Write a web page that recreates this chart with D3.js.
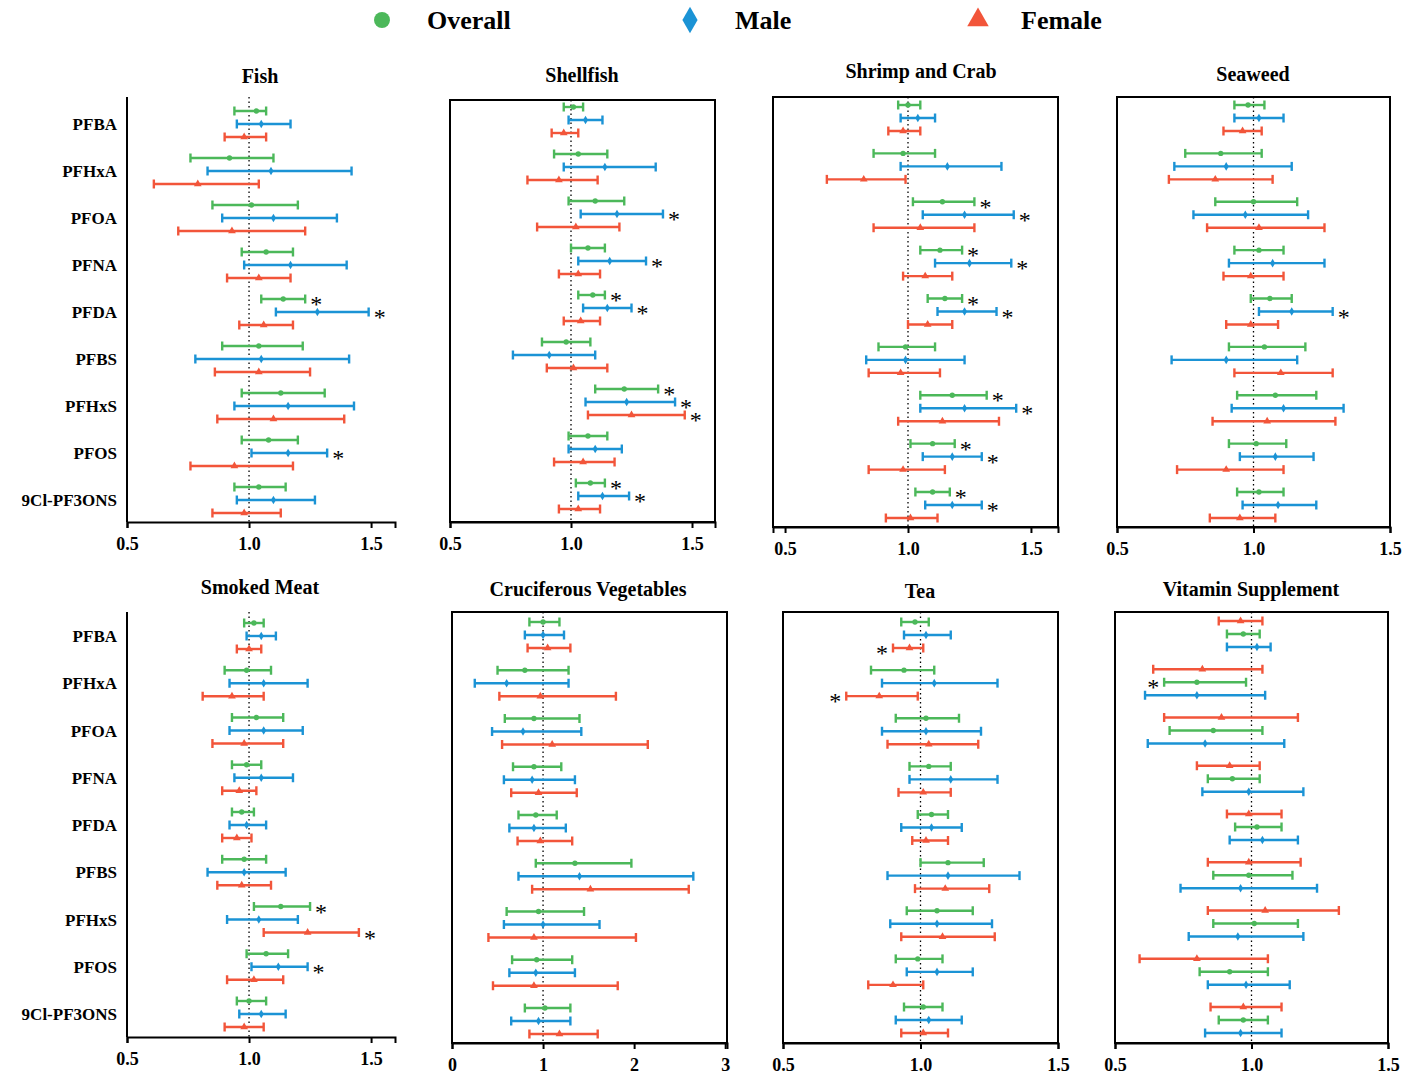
<!DOCTYPE html>
<html><head><meta charset="utf-8">
<script src="https://cdn.jsdelivr.net/npm/d3@7"></script>
<style>body{margin:0;background:#fff} svg text{font-family:"Liberation Serif","Times New Roman","DejaVu Serif",serif !important;font-weight:bold}</style>
</head><body>
<div class="canva"></div>
<script>
const compounds = ["PFBA","PFHxA","PFOA","PFNA","PFDA","PFBS","PFHxS","PFOS","9Cl-PF3ONS"]
// each entry: [estimate, lower CI, upper CI, star (1 right, -1 left, 0 none)]
const fishO = [[1.03,.94,1.07,0],[.92,.76,1.10,0],[1.01,.85,1.20,0],[1.07,.97,1.18,0],[1.14,1.05,1.23,1],[1.04,.89,1.22,0],[1.13,.97,1.31,0],[1.08,.97,1.20,0],[1.04,.94,1.15,0]]
const fishM = [[1.05,.95,1.17,0],[1.09,.83,1.42,0],[1.10,.89,1.36,0],[1.17,.98,1.40,0],[1.28,1.11,1.49,1],[1.05,.78,1.41,0],[1.16,.94,1.43,0],[1.16,1.01,1.32,1],[1.10,.95,1.27,0]]
const fishF = [[.98,.90,1.07,0],[.79,.61,1.04,0],[.93,.71,1.23,0],[1.04,.91,1.17,0],[1.06,.96,1.18,0],[1.04,.86,1.25,0],[1.10,.87,1.39,0],[.94,.76,1.18,0],[.98,.85,1.13,0]]
const shellO = [[1.01,.97,1.05,0],[1.03,.93,1.15,0],[1.10,.99,1.22,0],[1.07,1.00,1.14,0],[1.09,1.03,1.14,1],[.98,.88,1.08,0],[1.22,1.10,1.36,1],[1.07,.99,1.15,0],[1.08,1.02,1.14,1]]
const shellM = [[1.06,.99,1.13,0],[1.14,.97,1.35,0],[1.19,1.04,1.38,1],[1.16,1.03,1.31,1],[1.15,1.05,1.25,1],[.91,.76,1.10,0],[1.23,1.06,1.43,1],[1.10,.99,1.21,0],[1.13,1.03,1.24,1]]
const shellF = [[.97,.92,1.03,0],[.95,.82,1.11,0],[1.02,.86,1.20,0],[1.03,.95,1.12,0],[1.04,.97,1.12,0],[1.01,.90,1.15,0],[1.25,1.07,1.47,1],[1.05,.93,1.18,0],[1.03,.95,1.12,0]]
const shrimpO = [[1.00,.96,1.05,0],[.98,.86,1.11,0],[1.14,1.02,1.27,1],[1.13,1.05,1.22,1],[1.15,1.08,1.22,1],[.99,.88,1.11,0],[1.18,1.05,1.32,1],[1.10,1.01,1.19,1],[1.10,1.03,1.17,1]]
const shrimpM = [[1.04,.97,1.11,0],[1.16,.97,1.38,0],[1.23,1.06,1.43,1],[1.25,1.11,1.42,1],[1.23,1.12,1.36,1],[.99,.83,1.23,0],[1.23,1.05,1.44,1],[1.18,1.06,1.30,1],[1.18,1.07,1.30,1]]
const shrimpF = [[.98,.92,1.05,0],[.82,.67,.99,0],[1.05,.86,1.27,0],[1.07,.98,1.18,0],[1.08,1.00,1.18,0],[.97,.84,1.13,0],[1.14,.96,1.37,0],[.98,.84,1.15,0],[1.01,.91,1.12,0]]
const seaO = [[.98,.93,1.04,0],[.88,.75,1.03,0],[1.00,.86,1.16,0],[1.02,.93,1.11,0],[1.06,.99,1.14,0],[1.04,.91,1.19,0],[1.08,.94,1.23,0],[1.01,.91,1.12,0],[1.02,.94,1.11,0]]
const seaM = [[1.02,.93,1.11,0],[.90,.71,1.14,0],[.97,.78,1.20,0],[1.07,.91,1.26,0],[1.14,1.02,1.29,1],[.90,.70,1.16,0],[1.11,.92,1.33,0],[1.08,.95,1.22,0],[1.09,.96,1.23,0]]
const seaF = [[.96,.89,1.03,0],[.86,.69,1.07,0],[1.02,.83,1.26,0],[.99,.89,1.11,0],[.99,.90,1.09,0],[1.10,.93,1.29,0],[1.05,.85,1.30,0],[.90,.72,1.11,0],[.95,.84,1.08,0]]
const smokO = [[1.02,.98,1.06,0],[.99,.90,1.09,0],[1.03,.93,1.14,0],[.99,.93,1.05,0],[.97,.93,1.02,0],[.98,.89,1.07,0],[1.13,1.02,1.25,1],[1.07,.99,1.16,0],[1.00,.95,1.07,0]]
const smokM = [[1.05,.99,1.11,0],[1.06,.92,1.24,0],[1.06,.92,1.22,0],[1.05,.94,1.18,0],[.99,.92,1.07,0],[.98,.83,1.15,0],[1.04,.91,1.20,0],[1.12,1.01,1.24,1],[1.05,.96,1.15,0]]
const smokF = [[1.00,.95,1.05,0],[.93,.81,1.06,0],[.98,.85,1.14,0],[.96,.89,1.03,0],[.95,.89,1.01,0],[.97,.87,1.09,0],[1.24,1.06,1.45,1],[1.02,.91,1.14,0],[.98,.90,1.06,0]]
const crucO = [[1.00,.85,1.18,0],[.80,.50,1.28,0],[.90,.58,1.40,0],[.90,.67,1.20,0],[.92,.73,1.15,0],[1.35,.92,1.97,0],[.95,.60,1.45,0],[.93,.66,1.32,0],[1.02,.80,1.30,0]]
const crucM = [[1.00,.80,1.23,0],[.60,.25,1.28,0],[.78,.44,1.42,0],[.88,.57,1.35,0],[.90,.63,1.25,0],[1.40,.73,2.65,0],[1.00,.57,1.62,0],[.92,.63,1.35,0],[.95,.65,1.30,0]]
const crucF = [[1.05,.83,1.30,0],[.97,.52,1.80,0],[1.10,.55,2.15,0],[.95,.65,1.37,0],[.97,.72,1.32,0],[1.52,.88,2.60,0],[.90,.40,2.02,0],[.90,.45,1.82,0],[1.18,.85,1.60,0]]
const teaO = [[.98,.93,1.03,0],[.94,.82,1.05,0],[1.02,.91,1.14,0],[1.03,.96,1.11,0],[1.04,.99,1.10,0],[1.10,1.00,1.23,0],[1.06,.95,1.19,0],[.99,.91,1.08,0],[1.01,.94,1.08,0]]
const teaM = [[1.02,.94,1.11,0],[1.05,.86,1.28,0],[1.02,.86,1.22,0],[1.11,.96,1.28,0],[1.04,.93,1.15,0],[1.10,.88,1.36,0],[1.06,.89,1.26,0],[1.06,.95,1.19,0],[1.03,.91,1.15,0]]
const teaF = [[.96,.90,1.01,-1],[.85,.73,.99,-1],[1.03,.88,1.21,0],[1.01,.92,1.11,0],[1.02,.97,1.10,0],[1.09,.98,1.25,0],[1.08,.93,1.27,0],[.90,.81,1.01,0],[1.01,.93,1.10,0]]
const vitO = [[.97,.91,1.03,0],[.80,.68,.98,-1],[.86,.70,1.04,0],[.93,.84,1.03,0],[1.02,.94,1.11,0],[.99,.86,1.15,0],[1.01,.86,1.17,0],[.92,.81,1.06,0],[.97,.88,1.06,0]]
const vitM = [[1.02,.91,1.07,0],[.80,.61,1.05,0],[.83,.62,1.12,0],[.99,.82,1.19,0],[1.04,.92,1.17,0],[.96,.74,1.24,0],[.95,.77,1.19,0],[.98,.84,1.14,0],[.96,.83,1.11,0]]
const vitF = [[.96,.88,1.04,0],[.82,.64,1.04,0],[.89,.68,1.17,0],[.92,.80,1.03,0],[.99,.91,1.11,0],[.99,.84,1.18,0],[1.05,.84,1.32,0],[.80,.59,1.06,0],[.97,.85,1.11,0]]

const colors = {O:"#4cb85a", M:"#1b93d5", F:"#f2553a"}

const panels = [
  {title:"Fish", tx:260, ty:83, l:127, r:395, t:97, b:522, dom:[0.5,1.598], ticks:[0.5,1,1.5], box:false, c:[124,500], labels:true, O:fishO, M:fishM, F:fishF, order:["O","M","F"]},
  {title:"Shellfish", tx:582, ty:82, l:450, r:715, t:100, b:522, dom:[0.5,1.595], ticks:[0.5,1,1.5], box:true, c:[120,496], O:shellO, M:shellM, F:shellF, order:["O","M","F"]},
  {title:"Shrimp and Crab", tx:921, ty:78, l:773, r:1058, t:97, b:527, dom:[0.451,1.61], ticks:[0.5,1,1.5], box:true, c:[118,505], O:shrimpO, M:shrimpM, F:shrimpF, order:["O","M","F"]},
  {title:"Seaweed", tx:1253, ty:81, l:1117, r:1390, t:97, b:527, dom:[0.5,1.5], ticks:[0.5,1,1.5], box:true, c:[118,505], O:seaO, M:seaM, F:seaF, order:["O","M","F"]},
  {title:"Smoked Meat", tx:260, ty:594, l:127, r:395, t:612, b:1037, dom:[0.5,1.598], ticks:[0.5,1,1.5], box:false, c:[636,1014], labels:true, O:smokO, M:smokM, F:smokF, order:["O","M","F"]},
  {title:"Cruciferous Vegetables", tx:588, ty:596, l:452, r:727, t:612, b:1043, dom:[0,3.02], ticks:[0,1,2,3], box:true, c:[635,1021], O:crucO, M:crucM, F:crucF, order:["O","M","F"]},
  {title:"Tea", tx:920, ty:598, l:783, r:1058, t:612, b:1043, dom:[0.5,1.5], ticks:[0.5,1,1.5], box:true, c:[635,1020], O:teaO, M:teaM, F:teaF, order:["O","M","F"]},
  {title:"Vitamin Supplement", tx:1251, ty:596, l:1115, r:1388, t:612, b:1043, dom:[0.5,1.5], ticks:[0.5,1,1.5], box:true, c:[634,1020], O:vitO, M:vitM, F:vitF, order:["F","O","M"]}
]

const svg = d3.select(".canva").append("svg")
  .attr("width", 1415).attr("height", 1080)

function marker(g, type, x, y) {
  const sym = type === "O" ? d3.symbolCircle : type === "M" ? d3.symbolDiamond : d3.symbolTriangle
  g.append("path").attr("d", d3.symbol(sym, type === "F" ? 26 : 22)()).attr("transform", `translate(${x},${y})`)
    .attr("fill", colors[type])
}

panels.forEach(p => {
  const g = svg.append("g")
  const x = d3.scaleLinear().domain(p.dom).range([p.l, p.r])
  const y = d3.scalePoint().domain(compounds).range(p.c)

  g.append("text").attr("x", p.tx).attr("y", p.ty).attr("text-anchor", "middle")
    .attr("font-size", 20).text(p.title)

  // reference line at 1
  g.append("line").attr("x1", x(1)).attr("x2", x(1)).attr("y1", p.t).attr("y2", p.b)
    .attr("stroke", "#000").attr("stroke-width", 1.3).attr("stroke-dasharray", "1.5,3")

  p.order.forEach((s, k) => {
    const off = (k - 1) * 13
    p[s].forEach((d, i) => {
      const yy = y(compounds[i]) + off
      const gg = g.append("g").attr("stroke", colors[s]).attr("stroke-width", 2.4)
      gg.append("line").attr("x1", x(d[1])).attr("x2", x(d[2])).attr("y1", yy).attr("y2", yy)
      gg.append("line").attr("x1", x(d[1])).attr("x2", x(d[1])).attr("y1", yy - 4.5).attr("y2", yy + 4.5)
      gg.append("line").attr("x1", x(d[2])).attr("x2", x(d[2])).attr("y1", yy - 4.5).attr("y2", yy + 4.5)
      marker(g, s, x(d[0]), yy)
      if (d[3] !== 0) {
        g.append("text").attr("x", d[3] > 0 ? x(d[2]) + 5 : x(d[1]) - 5)
          .attr("y", yy + 13).attr("text-anchor", d[3] > 0 ? "start" : "end")
          .attr("font-size", 24).style("font-weight", "normal").text("*")
      }
    })
  })

  const ax = g.append("g").attr("transform", `translate(0,${p.b})`)
    .call(d3.axisBottom(x).tickValues(p.ticks).tickSize(6).tickFormat(d => p.dom[1] > 2 ? d3.format("d")(d) : d3.format(".1f")(d)))
  ax.select(".domain").attr("stroke-width", 2)
  ax.selectAll(".tick line").attr("stroke-width", 2)
  ax.selectAll("text").attr("font-size", 18).attr("dy", "1.05em")

  g.append("line").attr("x1", p.l).attr("x2", p.l).attr("y1", p.t).attr("y2", p.b)
    .attr("stroke", "#000").attr("stroke-width", 2)
  if (p.box) {
    g.append("rect").attr("x", p.l).attr("y", p.t).attr("width", p.r - p.l).attr("height", p.b - p.t)
      .attr("fill", "none").attr("stroke", "#000").attr("stroke-width", 2)
  }
  if (p.labels) {
    compounds.forEach(c => {
      g.append("text").attr("x", p.l - 10).attr("y", y(c) + 6).attr("text-anchor", "end")
        .attr("font-size", 17).text(c)
    })
  }
})

// legend
const legend = [["O","Overall",382,427],["M","Male",690,735],["F","Female",978,1021]]
legend.forEach(([s, name, mx, tx]) => {
  const sym = s === "O" ? d3.symbolCircle : s === "M" ? d3.symbolDiamond : d3.symbolTriangle
  svg.append("path").attr("d", d3.symbol(sym, 200)()).attr("transform", `translate(${mx},20)`).attr("fill", colors[s])
  svg.append("text").attr("x", tx).attr("y", 29).attr("font-size", 26).text(name)
})
</script>
</body></html>
